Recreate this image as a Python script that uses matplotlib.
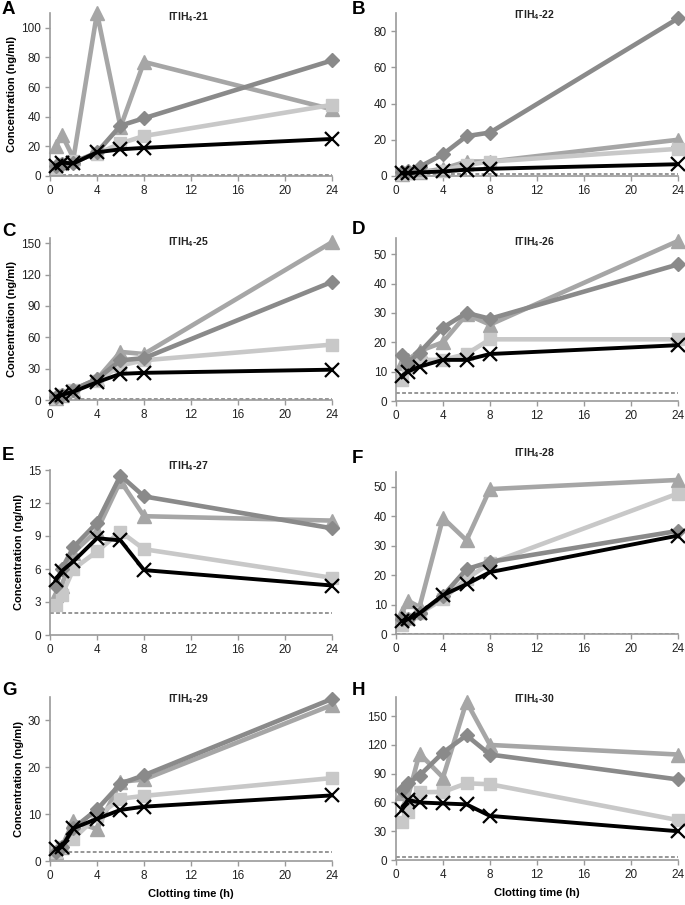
import matplotlib
matplotlib.use("Agg")
import matplotlib.pyplot as plt

plt.rcParams['font.family'] = ['Liberation Sans', 'DejaVu Sans']
plt.rcParams['mathtext.fontset'] = 'custom'
plt.rcParams['mathtext.rm'] = 'Liberation Sans'
plt.rcParams['mathtext.bf'] = 'Liberation Sans:bold'

# ---------------- data ----------------
times = [0.5, 1, 2, 4, 6, 8, 24]
x_ticks = [0, 4, 8, 12, 16, 20, 24]

A_dia = [7, 8, 9, 16, 34, 39, 78]
A_tri = [20, 28, 12, 110, 33, 77, 45]
A_sq = [5, 8, 10, 15, 22, 27, 48]
A_x = [7, 9, 8.5, 16, 18, 19, 25]

B_dia = [2, 3, 5, 12, 22, 24, 87]
B_tri = [1, 2, 2, 4, 8, 8, 20]
B_sq = [1, 1.5, 2, 3, 6, 8, 15]
B_x = [1.5, 1.5, 2, 2.5, 3.5, 4, 6.5]

C_dia = [3, 5, 10, 20, 38, 40, 113]
C_tri = [2, 5, 10, 20, 46, 44, 151]
C_sq = [2, 5, 10, 18, 33, 38, 53]
C_x = [3, 5, 8, 17, 25, 26, 29]

D_dia = [15.5, 13, 16.5, 25, 30, 28, 46.5]
D_tri = [13, 14, 17, 20, 29.5, 26, 54.5]
D_sq = [7, 12, 14, 14, 16, 21, 21]
D_x = [8.5, 10, 11.7, 14, 14, 16, 19]

E_dia = [4.5, 6, 8, 10.2, 14.5, 12.6, 9.7]
E_tri = [3.6, 4.5, 7.5, 9.5, 14, 10.8, 10.4]
E_sq = [2.7, 3.6, 6, 7.6, 9.4, 7.8, 5.2]
E_x = [5, 5.8, 6.7, 8.8, 8.6, 5.9, 4.5]

F_dia = [5, 5, 7, 13, 22, 24.5, 35]
F_tri = [7, 11.3, 9.2, 39.4, 31.8, 49.2, 52.3]
F_sq = [3, 5, 7, 11.8, 18.8, 24, 47.7]
F_x = [4.4, 5, 7, 13.2, 16.9, 21, 33.4]

G_dia = [2, 3, 7, 11, 16.5, 18.3, 34.6]
G_tri = [2, 3, 8.5, 6.8, 16.9, 17.4, 33.3]
G_sq = [2, 3, 4.8, 9.5, 13.3, 13.9, 17.7]
G_x = [2.5, 3, 7, 9, 10.9, 11.6, 14]

H_dia = [73, 80, 88, 112, 130, 110, 84]
H_tri = [70, 65, 111, 86, 165, 120, 110]
H_sq = [40, 50, 70.7, 71, 80, 79, 41.6]
H_x = [52, 62.7, 60, 59, 58, 46, 30]

letters = ['A', 'B', 'C', 'D', 'E', 'F', 'G', 'H']
peptide_ids = ['21', '22', '25', '26', '27', '28', '29', '30']
lod = [1.0, 1.0, 0.8, 2.6, 2.0, 0.0, 2.0, 2.8]
y_max = [110, 90, 155, 55.5, 15, 55, 35, 170]
y_ticks = [
    [0, 20, 40, 60, 80, 100],
    [0, 20, 40, 60, 80],
    [0, 30, 60, 90, 120, 150],
    [0, 10, 20, 30, 40, 50],
    [0, 3, 6, 9, 12, 15],
    [0, 10, 20, 30, 40, 50],
    [0, 10, 20, 30],
    [0, 30, 60, 90, 120, 150],
]
series = [
    (A_dia, A_tri, A_sq, A_x), (B_dia, B_tri, B_sq, B_x),
    (C_dia, C_tri, C_sq, C_x), (D_dia, D_tri, D_sq, D_x),
    (E_dia, E_tri, E_sq, E_x), (F_dia, F_tri, F_sq, F_x),
    (G_dia, G_tri, G_sq, G_x), (H_dia, H_tri, H_sq, H_x),
]

# ---------------- layout ----------------
W, H = 685, 905
fig = plt.figure(figsize=(W / 100, H / 100), dpi=100)

col_x = [50, 396]
col_w = 282
rows_px = {  # (top, bottom) per panel
    'A': (13, 176), 'B': (13, 176),
    'C': (238, 400), 'D': (238, 401),
    'E': (470, 635), 'F': (472, 634),
    'G': (697, 861), 'H': (697, 860),
}
title_y_px = {'A': 17, 'B': 15, 'C': 242, 'D': 242, 'E': 466, 'F': 453, 'G': 699, 'H': 699}
letter_pos = {'A': (2, 9), 'B': (352, 9), 'C': (2, 231), 'D': (352, 229),
              'E': (2, 456), 'F': (352, 458), 'G': (2, 690), 'H': (352, 690)}

c_dia = '#8a8a8a'
c_tri = '#a6a6a6'
c_sq = '#c8c8c8'
axis_col = '#9a9a9a'

for i, L in enumerate(letters):
    col = i % 2
    top, bot = rows_px[L]
    ax = fig.add_axes([col_x[col] / W, (H - bot) / H, col_w / W, (bot - top) / H])
    dia, tri, sq, xx = series[i]
    ax.plot([0, 24], [lod[i], lod[i]], ls=(0, (2.5, 1.5)), color='#7a7a7a', lw=1.1, zorder=1)
    ax.plot(times, dia, color=c_dia, lw=3.3, marker='D', ms=7, mec=c_dia, clip_on=False, zorder=3)
    ax.plot(times, tri, color=c_tri, lw=3.3, marker='^', ms=9.5, mec=c_tri, clip_on=False, zorder=2)
    ax.plot(times, sq, color=c_sq, lw=3.3, marker='s', ms=8, mec=c_sq, clip_on=False, zorder=2.5)
    ax.plot(times, xx, color='black', lw=2.8, marker='x', ms=9.5, mew=1.6, clip_on=False, zorder=4)

    ax.set_xlim(0, 24)
    ax.set_ylim(0, y_max[i])
    ax.set_xticks(x_ticks)
    ax.set_yticks(y_ticks[i])
    for s in ['top', 'right']:
        ax.spines[s].set_visible(False)
    for s in ['left', 'bottom']:
        ax.spines[s].set_color(axis_col)
        ax.spines[s].set_linewidth(1.2)
    ax.tick_params(axis='both', colors=axis_col, labelcolor='#222222', labelsize=8.5,
                   length=3.5, width=1, direction='out', pad=3)
    ax.set_facecolor('none')

    # title
    tx = col_x[col] + 0.49 * col_w
    fig.text(tx / W, 1 - title_y_px[L] / H, r'ITIH$_\mathbf{4}$-' + peptide_ids[i],
             ha='center', va='center', fontsize=7.5, fontweight='bold', color='#222222')
    lx, ly = letter_pos[L]
    fig.text(lx / W, 1 - ly / H, L, ha='left', va='center', fontsize=13.5,
             fontweight='bold', color='black')

    if col == 0:
        ax.set_ylabel('Concentration (ng/ml)', fontsize=8, fontweight='bold', labelpad=3)
    if L in ('G', 'H'):
        ax.set_xlabel('Clotting time (h)', fontsize=8, fontweight='bold', labelpad=5)

fig.savefig('out.png', dpi=100)
